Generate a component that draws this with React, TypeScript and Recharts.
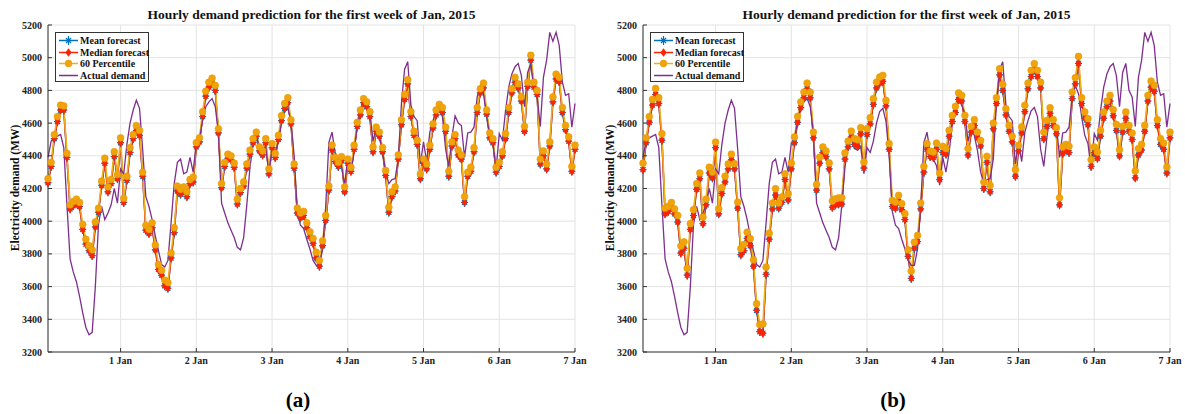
import { CartesianGrid, Line, LineChart, XAxis, YAxis } from "recharts";

// hour index: 31 Dec 01:00 ... 7 Jan 00:00
const hours = Array.from({ length: 168 }, (_, i) => i + 1);
const dayTicks = [24, 48, 72, 96, 120, 144, 168];
const dayLabels = ["1 Jan", "2 Jan", "3 Jan", "4 Jan", "5 Jan", "6 Jan", "7 Jan"];
const demandTicks = [3200, 3400, 3600, 3800, 4000, 4200, 4400, 4600, 4800, 5000, 5200];

const actualDemand = [
  4390, 4490, 4510, 4520, 4530, 4450, 4100, 3770, 3690, 3630,
  3540, 3440, 3350, 3305, 3320, 3600, 3980, 4090, 4010, 4050,
  4100, 4200, 4110, 4320, 4290, 4470, 4600, 4680, 4740, 4690,
  4440, 4150, 4090, 4010, 3910, 3820, 3735, 3720, 3760, 3990,
  4230, 4360, 4380, 4290, 4300, 4390, 4300, 4480, 4500, 4620,
  4700, 4730, 4750, 4700, 4540, 4110, 4050, 3990, 3945, 3900,
  3840, 3825, 3900, 4100, 4330, 4470, 4530, 4445, 4435, 4455,
  4290, 4450, 4420, 4490, 4600, 4670, 4690, 4610, 4400, 4060,
  3975, 3955, 3890, 3830, 3760, 3730, 3730, 3830, 4090, 4480,
  4545, 4420, 4380, 4340, 4220, 4390, 4300, 4420, 4590, 4680,
  4740, 4710, 4660, 4490, 4570, 4525, 4430, 4300, 4230, 4255,
  4260, 4380, 4720, 4930, 4975, 4710, 4640, 4615, 4350, 4485,
  4365, 4545, 4615, 4675, 4695, 4640, 4440, 4335, 4515, 4645,
  4600, 4585, 4390, 4540, 4545, 4575, 4760, 4830, 4780, 4640,
  4525, 4475, 4320, 4535, 4495, 4678, 4820, 4900, 4945, 4965,
  4890, 4700, 4910, 4965, 4800, 4760, 4580, 4880, 4985, 5155,
  5100, 5155, 5075, 4850, 4770, 4780, 4575, 4720
];

// (a)
const percentile60A = [
  4260, 4360, 4530, 4640, 4710, 4705, 4415, 4100, 4120, 4135,
  4115, 3980, 3890, 3850, 3825, 3995, 4080, 4245, 4385, 4210,
  4255, 4425, 4285, 4510, 4140, 4275, 4450, 4530, 4585, 4555,
  4300, 3975, 3950, 3990, 3855, 3735, 3700, 3640, 3625, 3805,
  3960, 4215, 4195, 4210, 4180, 4255, 4270, 4480, 4510, 4670,
  4795, 4850, 4875, 4830, 4565, 4230, 4360, 4410, 4400, 4355,
  4135, 4200, 4240, 4350, 4435, 4505, 4545, 4455, 4430, 4505,
  4320, 4475, 4415, 4525, 4645, 4720, 4755, 4620, 4350, 4080,
  4050, 4060, 3990, 3935, 3895, 3810, 3760, 3880, 4035, 4215,
  4465, 4390, 4360, 4395, 4210, 4380, 4330, 4465, 4605, 4680,
  4750, 4730, 4670, 4455, 4575, 4545, 4450, 4310, 4085, 4180,
  4210, 4405, 4620, 4775, 4865, 4670, 4550, 4495, 4290, 4380,
  4350, 4465, 4595, 4680, 4715, 4695, 4575, 4305, 4485, 4530,
  4435, 4405, 4150, 4300, 4330, 4450, 4695, 4810, 4845, 4680,
  4540, 4505, 4330, 4360, 4425, 4535, 4695, 4810, 4880, 4840,
  4760, 4580, 4850, 5015, 4850, 4800, 4380, 4430, 4350, 4485,
  4760, 4900, 4880, 4695, 4585, 4515, 4335, 4465
];
const medianA = [
  4235, 4335, 4505, 4610, 4680, 4680, 4390, 4075, 4095, 4110,
  4090, 3950, 3860, 3820, 3790, 3965, 4055, 4220, 4355, 4180,
  4230, 4395, 4260, 4480, 4115, 4250, 4420, 4505, 4555, 4525,
  4275, 3945, 3925, 3960, 3825, 3705, 3670, 3605, 3590, 3775,
  3930, 4185, 4165, 4185, 4150, 4230, 4240, 4455, 4485, 4640,
  4765, 4820, 4845, 4800, 4540, 4205, 4335, 4385, 4375, 4330,
  4105, 4175, 4215, 4325, 4410, 4480, 4520, 4430, 4405, 4480,
  4290, 4450, 4390, 4500, 4615, 4690, 4725, 4595, 4325, 4050,
  4020, 4035, 3960, 3905, 3865, 3775, 3725, 3850, 4005, 4190,
  4435, 4365, 4335, 4370, 4180, 4355, 4305, 4440, 4580, 4650,
  4725, 4700, 4640, 4425, 4550, 4520, 4425, 4280, 4055, 4150,
  4185, 4380, 4590, 4745, 4840, 4640, 4525, 4470, 4260, 4355,
  4320, 4440, 4570, 4650, 4690, 4665, 4550, 4275, 4460, 4505,
  4405, 4380, 4115, 4275, 4305, 4425, 4665, 4785, 4815, 4655,
  4510, 4480, 4300, 4335, 4400, 4505, 4665, 4785, 4850, 4815,
  4735, 4550, 4825, 4985, 4820, 4775, 4350, 4400, 4320, 4460,
  4730, 4870, 4855, 4665, 4560, 4490, 4305, 4440
];
// mean and median markers sit on top of each other in the figure
const meanA = medianA;

// (b)
const percentile60B = [
  4355, 4510, 4640, 4745, 4812, 4755, 4535, 4080, 4090, 4115,
  4075, 4035, 3848, 3874, 3712, 3985, 4070, 4230, 4295, 4025,
  4135, 4330, 4300, 4484, 4076, 4205, 4275, 4350, 4410, 4352,
  4117, 3832, 3858, 3933, 3893, 3764, 3495, 3368, 3372, 3719,
  3927, 4111, 4199, 4111, 4148, 4290, 4168, 4356, 4515, 4641,
  4729, 4790, 4845, 4790, 4545, 4225, 4392, 4454, 4429, 4356,
  4123, 4137, 4143, 4143, 4417, 4490, 4551, 4505, 4498, 4572,
  4362, 4566, 4633, 4749, 4851, 4882, 4892, 4739, 4474, 4127,
  4117, 4158, 4107, 4046, 3825, 3695, 3872, 3913, 4111, 4335,
  4474, 4429, 4423, 4478, 4294, 4458, 4444, 4556, 4647, 4702,
  4784, 4770, 4647, 4444, 4580, 4621, 4545, 4494, 4239, 4397,
  4219, 4600, 4755, 4933, 4837, 4688, 4586, 4519, 4315, 4464,
  4576, 4709, 4845, 4923, 4964, 4923, 4851, 4545, 4617, 4694,
  4621, 4572, 4143, 4454, 4470, 4458, 4790, 4878, 5008, 4755,
  4668, 4627, 4376, 4454, 4423, 4556, 4668, 4735, 4770, 4682,
  4592, 4437, 4580, 4668, 4586, 4539, 4307, 4444, 4470, 4586,
  4770, 4857, 4831, 4621, 4505, 4478, 4331, 4545
];
const medianB = [
  4315, 4480, 4605, 4710, 4775, 4720, 4495, 4045, 4060, 4085,
  4045, 3995, 3805, 3835, 3670, 3950, 4035, 4195, 4260, 3985,
  4100, 4295, 4265, 4450, 4045, 4170, 4240, 4320, 4375, 4320,
  4080, 3795, 3820, 3895, 3850, 3725, 3455, 3325, 3315, 3675,
  3890, 4075, 4160, 4080, 4115, 4255, 4130, 4320, 4480, 4605,
  4695, 4755, 4810, 4755, 4510, 4190, 4355, 4420, 4395, 4320,
  4085, 4100, 4105, 4105, 4380, 4455, 4515, 4470, 4460, 4535,
  4325, 4530, 4595, 4715, 4815, 4845, 4855, 4705, 4440, 4090,
  4080, 4120, 4070, 4010, 3785, 3650, 3835, 3875, 4075, 4300,
  4440, 4395, 4390, 4440, 4255, 4420, 4410, 4520, 4610, 4665,
  4745, 4735, 4610, 4405, 4545, 4585, 4510, 4460, 4200, 4360,
  4180, 4565, 4720, 4895, 4800, 4650, 4550, 4485, 4275, 4430,
  4540, 4670, 4810, 4885, 4925, 4885, 4815, 4505, 4580, 4660,
  4585, 4535, 4100, 4415, 4435, 4420, 4750, 4840, 4965, 4720,
  4630, 4590, 4335, 4420, 4385, 4520, 4630, 4700, 4735, 4645,
  4555, 4400, 4545, 4630, 4550, 4500, 4265, 4405, 4435, 4550,
  4735, 4820, 4795, 4585, 4470, 4440, 4295, 4510
];
const meanB = medianB;

const BLUE = "#0072BD";
const RED = "#FF2200";
const ORANGE = "#EDB120";
const ORANGE_DOT = "#F0A30A";
const PURPLE = "#7E2F8E";
const FONT = '"Liberation Serif", "Times New Roman", serif';

function MeanDot(props: any) {
  const { cx, cy, index } = props;
  if (cx == null || cy == null) return <g key={`m${index}`} />;
  const s = 3.5;
  return (
    <g key={`m${index}`} stroke={BLUE} strokeWidth={1.2}>
      <line x1={cx - s} y1={cy} x2={cx + s} y2={cy} />
      <line x1={cx} y1={cy - s - 1} x2={cx} y2={cy + s + 1} />
      <line x1={cx - 2.5} y1={cy - 2.5} x2={cx + 2.5} y2={cy + 2.5} />
      <line x1={cx - 2.5} y1={cy + 2.5} x2={cx + 2.5} y2={cy - 2.5} />
    </g>
  );
}

function MedianDot(props: any) {
  const { cx, cy, index } = props;
  if (cx == null || cy == null) return <g key={`d${index}`} />;
  return (
    <g key={`d${index}`}>
      <path
        d={`M${cx},${cy - 3.8} L${cx + 2.6},${cy} L${cx},${cy + 3.8} L${cx - 2.6},${cy} Z`}
        fill={RED}
        stroke={RED}
        strokeWidth={0.8}
      />
    </g>
  );
}

function PercentileDot(props: any) {
  const { cx, cy, index } = props;
  if (cx == null || cy == null) return <g key={`p${index}`} />;
  return <circle key={`p${index}`} cx={cx} cy={cy} r={3.4} fill={ORANGE_DOT} stroke="#E89A00" strokeWidth={0.6} />;
}

function LegendBox({ left }: { left: number }) {
  const items = [
    { label: "Mean forecast", color: BLUE, marker: "mean" },
    { label: "Median forecast", color: RED, marker: "median" },
    { label: "60 Percentile", color: ORANGE, marker: "p60" },
    { label: "Actual demand", color: PURPLE, marker: "none" }
  ];
  return (
    <div
      style={{
        position: "absolute",
        left,
        top: 32,
        width: 94,
        height: 50,
        border: "1px solid #333",
        background: "#fff",
        boxSizing: "border-box"
      }}
    >
      {items.map((item, i) => (
        <div
          key={item.label}
          style={{
            position: "absolute",
            left: 0,
            top: 2 + i * 11.5,
            height: 11,
            display: "flex",
            alignItems: "center",
            whiteSpace: "nowrap"
          }}
        >
          <svg width={24} height={11} style={{ display: "block" }}>
            <line x1={3} y1={5.5} x2={22} y2={5.5} stroke={item.color} strokeWidth={1.5} />
            {item.marker === "mean" && MeanDot({ cx: 12.5, cy: 5.5, index: "l" })}
            {item.marker === "median" && MedianDot({ cx: 12.5, cy: 5.5, index: "l" })}
            {item.marker === "p60" && PercentileDot({ cx: 12.5, cy: 5.5, index: "l" })}
          </svg>
          <span style={{ fontFamily: FONT, fontWeight: 700, fontSize: 10, color: "#111" }}>{item.label}</span>
        </div>
      ))}
    </div>
  );
}

type PanelProps = {
  left: number;
  percentile60: number[];
  median: number[];
  mean: number[];
  caption: string;
};

function Panel({ left, percentile60, median, mean, caption }: PanelProps) {
  const data = hours.map((h, i) => ({
    hour: h,
    mean: mean[i],
    median: median[i],
    p60: percentile60[i],
    actual: actualDemand[i]
  }));

  const tickStyle = { fontFamily: FONT, fontWeight: 700, fontSize: 10, fill: "#222" };

  return (
    <>
      <div style={{ position: "absolute", left, top: 0 }}>
        <LineChart width={590} height={414} data={data} margin={{ top: 25, right: 15, bottom: 42, left: 0 }}>
          <CartesianGrid stroke="#e3e3e3" strokeWidth={1} />
          <XAxis
            dataKey="hour"
            type="number"
            domain={[1, 168]}
            ticks={dayTicks}
            tickFormatter={(v) => dayLabels[dayTicks.indexOf(v)] ?? ""}
            tick={tickStyle}
            tickSize={-4}
            tickMargin={9}
            height={20}
            stroke="#333"
            interval={0}
          />
          <YAxis
            domain={[3200, 5200]}
            ticks={demandTicks}
            tick={tickStyle}
            tickSize={-4}
            tickMargin={10}
            width={48}
            stroke="#333"
            interval={0}
          />
          <Line
            dataKey="mean"
            stroke={BLUE}
            strokeWidth={1.5}
            dot={MeanDot}
            activeDot={false}
            isAnimationActive={false}
          />
          <Line
            dataKey="median"
            stroke={RED}
            strokeWidth={1.5}
            dot={MedianDot}
            activeDot={false}
            isAnimationActive={false}
          />
          <Line
            dataKey="p60"
            stroke={ORANGE}
            strokeWidth={1.6}
            dot={PercentileDot}
            activeDot={false}
            isAnimationActive={false}
          />
          <Line
            dataKey="actual"
            stroke={PURPLE}
            strokeWidth={1.3}
            dot={false}
            activeDot={false}
            isAnimationActive={false}
          />
        </LineChart>
      </div>

      <div
        style={{
          position: "absolute",
          left: left + 48,
          top: 7,
          width: 527,
          textAlign: "center",
          fontFamily: FONT,
          fontWeight: 700,
          fontSize: 13.5,
          lineHeight: "16px",
          color: "#111"
        }}
      >
        Hourly demand prediction for the first week of Jan, 2015
      </div>

      <div
        style={{
          position: "absolute",
          left: left + 15 - 100,
          top: 188 - 7,
          width: 200,
          height: 14,
          lineHeight: "14px",
          textAlign: "center",
          transform: "rotate(-90deg)",
          fontFamily: FONT,
          fontWeight: 700,
          fontSize: 11.5,
          color: "#111"
        }}
      >
        Electricity demand (MW)
      </div>

      <LegendBox left={left + 55} />

      <div
        style={{
          position: "absolute",
          left: left + 298 - 40,
          top: 388,
          width: 80,
          textAlign: "center",
          fontFamily: FONT,
          fontWeight: 700,
          fontSize: 21,
          lineHeight: "24px",
          color: "#000"
        }}
      >
        {caption}
      </div>
    </>
  );
}

export default function App() {
  return (
    <div style={{ position: "absolute", left: 0, top: 0, width: 1185, height: 414, background: "#fff", overflow: "hidden" }}>
      <Panel left={0} percentile60={percentile60A} median={medianA} mean={meanA} caption="(a)" />
      <Panel left={595} percentile60={percentile60B} median={medianB} mean={meanB} caption="(b)" />
    </div>
  );
}
